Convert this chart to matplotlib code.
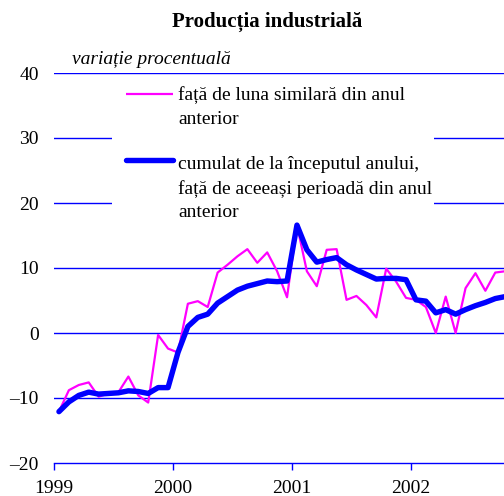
import matplotlib
matplotlib.use("Agg")
import matplotlib.pyplot as plt
from matplotlib.patches import Rectangle
from matplotlib.lines import Line2D

plt.rcParams['font.family'] = ['Liberation Serif', 'DejaVu Serif']

# monthly data, Jan 1999 ... Oct 2002
start_year = 1999
monthly_yoy = [-12.1, -8.8, -8.0, -7.6, -9.8, -9.3, -9.1, -6.7, -9.6, -10.7, -0.3, -2.4,
               -3.0, 4.5, 4.9, 4.0, 9.3, 10.5, 11.8, 12.9, 10.8, 12.4, 9.5, 5.5,
               16.6, 9.5, 7.2, 12.8, 12.9, 5.1, 5.7, 4.3, 2.4, 9.9, 7.9, 5.4,
               5.1, 4.0, 0.0, 5.6, 0.0, 6.9, 9.2, 6.5, 9.3, 9.5]
cumulative = [-12.1, -10.6, -9.6, -9.1, -9.4, -9.3, -9.2, -8.9, -9.0, -9.3, -8.4, -8.4,
              -3.0, 1.0, 2.4, 2.9, 4.6, 5.6, 6.6, 7.2, 7.6, 8.0, 7.9, 8.0,
              16.6, 12.8, 10.9, 11.3, 11.6, 10.5, 9.7, 9.0, 8.3, 8.4, 8.4, 8.2,
              5.1, 4.9, 3.1, 3.6, 2.9, 3.6, 4.2, 4.7, 5.3, 5.6]
year_ticks = [1999, 2000, 2001, 2002]
y_ticks = [40, 30, 20, 10, 0, -10, -20]
y_labels = ['40', '30', '20', '10', '0', '\u201310', '\u201320']

title = 'Producția industrială'
subtitle = 'variație procentuală'
label_monthly = 'față de luna similară din anul\nanterior'
label_cum = 'cumulat de la începutul anului,\nfață de aceeași perioadă din anul\nanterior'

x = [start_year + (i + 0.5) / 12 for i in range(len(monthly_yoy))]

W, H = 504, 496
fig = plt.figure(figsize=(W / 100, H / 100), dpi=100)
ax = fig.add_axes([54 / W, 33 / H, (W - 54) / W, 390 / H])

BLUE = '#0000FF'
PINK = '#FF00FF'

ax.set_xlim(1999, 1999 + 450 / 119)
ax.set_ylim(-20, 40)

for v in y_ticks[:-1]:
    ax.axhline(v, color=BLUE, lw=1.0, zorder=1)

ax.plot(x, monthly_yoy, color=PINK, lw=1.6, zorder=3, solid_joinstyle='round')
ax.plot(x, cumulative, color=BLUE, lw=3.9, zorder=4, solid_joinstyle='round',
        solid_capstyle='round')

for s in ['top', 'right', 'left']:
    ax.spines[s].set_visible(False)
ax.spines['bottom'].set_color(BLUE)
ax.spines['bottom'].set_linewidth(1.0)

FS = 14
ax.set_yticks(y_ticks)
ax.set_yticklabels(y_labels, fontsize=FS)
ax.tick_params(axis='y', length=0, pad=11)
ax.set_xticks(year_ticks)
ax.set_xticklabels([str(y) for y in year_ticks], fontsize=FS)
ax.tick_params(axis='x', length=5, width=1.0, color=BLUE, direction='out', pad=7)

# legend (white box covering grid lines)
def px2ax(px, py):
    return ((px - 54) / 450, (463 - py) / 390)

x0, y0 = px2ax(112, 228)
x1, y1 = px2ax(434, 80)
ax.add_patch(Rectangle((x0, y0), x1 - x0, y1 - y0, transform=ax.transAxes,
                       facecolor='white', edgecolor='none', zorder=2))
for (py, col, lw) in [(94, PINK, 1.6), (160, BLUE, 3.9)]:
    a, b = px2ax(126, py)
    c, _ = px2ax(173, py)
    ax.add_line(Line2D([a, c], [b, b], transform=ax.transAxes, color=col, lw=lw,
                       zorder=5, solid_capstyle='butt' if lw < 2 else 'round'))
tx, ty = px2ax(178, 86)
ax.text(tx, ty, label_monthly, transform=ax.transAxes, fontsize=FS, va='top',
        ha='left', linespacing=1.55, zorder=5)
tx, ty = px2ax(178, 156)
ax.text(tx, ty, label_cum, transform=ax.transAxes, fontsize=FS, va='top',
        ha='left', linespacing=1.5, zorder=5)

fig.text(267 / W, 1 - 22 / H, title, fontsize=15, fontweight='bold',
         ha='center', va='center')
fig.text(72 / W, 1 - 60 / H, subtitle, fontsize=FS, style='italic',
         ha='left', va='center')

fig.savefig('out.png', dpi=100)
